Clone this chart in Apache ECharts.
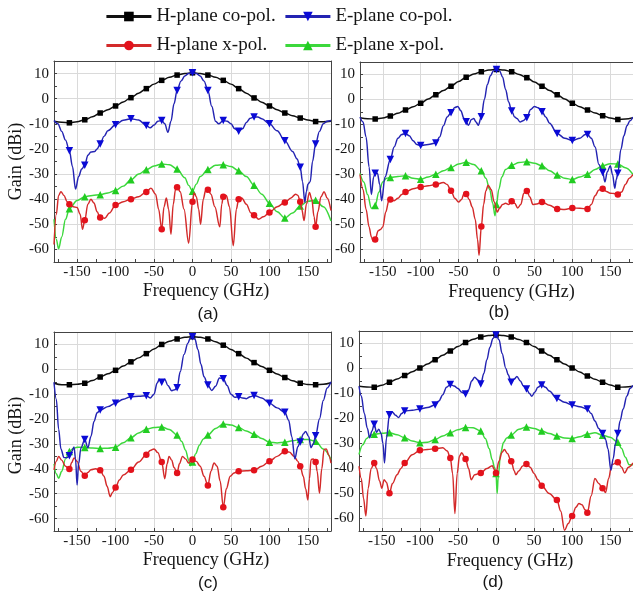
<!DOCTYPE html>
<html><head><meta charset="utf-8">
<script src="https://cdn.jsdelivr.net/npm/echarts@6/dist/echarts.min.js"></script>
<style>html,body{margin:0;padding:0;background:#fff}#c{width:633px;height:596px}</style>
</head><body><div id="c"></div>
<script>
const seriesNames = ['H-plane co-pol.', 'E-plane co-pol.', 'H-plane x-pol.', 'E-plane x-pol.'];
const panelLabels = ['(a)', '(b)', '(c)', '(d)'];
const xTickLabels = [-150, -100, -50, 0, 50, 100, 150];
const xMinorTicks = [-175, -150, -125, -100, -75, -50, -25, 0, 25, 50, 75, 100, 125, 150, 175];
const yTickLabels = [-60, -50, -40, -30, -20, -10, 0, 10, 15];
const yGridTicks = [-60, -50, -40, -30, -20, -10, 0, 10];
const yMinorTicks = [-60, -55, -50, -45, -40, -35, -30, -25, -20, -15, -10, -5, 0, 5, 10];

// ---------- panel (a) ----------
const hCoA = [[-180,-9],[-170,-9.4],[-160,-9.6],[-150,-9.2],[-140,-8.4],[-130,-7.2],[-120,-5.7],[-110,-4.4],[-100,-2.9],[-90,-1.3],[-80,0.4],[-70,2.2],[-60,4],[-50,5.8],[-40,7.3],[-30,8.5],[-20,9.4],[-10,10],[0,10.3],[10,10],[20,9.4],[30,8.5],[40,7.3],[50,5.8],[60,4],[70,2.2],[80,0.3],[90,-1.4],[100,-2.9],[110,-4.4],[120,-5.7],[130,-6.8],[140,-7.7],[150,-8.5],[160,-9.1],[170,-9.2],[180,-9]];
const eCoA = [[-180,-8.7],[-175,-10],[-170,-13],[-165,-16.5],[-160,-20.7],[-156,-27],[-152,-36],[-148,-31],[-144,-28],[-140,-26.5],[-136,-22.5],[-132,-21.2],[-127,-21],[-124,-20],[-120,-18],[-115,-15],[-110,-12.8],[-100,-10.4],[-90,-8.6],[-80,-8],[-70,-8.5],[-60,-10.7],[-55,-11.6],[-50,-10.5],[-45,-9],[-40,-8.7],[-36,-10],[-32,-13.4],[-28,-9],[-24,-2],[-20,3.3],[-15,7],[-10,9],[-5,10],[0,10.3],[5,10],[10,9],[15,7],[20,3.3],[25,-3],[30,-9],[34,-10],[40,-8.7],[45,-9],[50,-10],[55,-12],[60,-13],[65,-12],[70,-9.5],[75,-7.8],[80,-7.3],[85,-7.3],[90,-8],[100,-10],[110,-12.8],[120,-16.7],[130,-21],[136,-24],[140,-27.3],[143,-33],[146,-41.3],[148,-37],[150,-34],[153,-33],[156,-25],[160,-18],[165,-13],[170,-10],[175,-9],[180,-8.7]];
const hXA = [[-180,-58],[-177,-46],[-174,-38.5],[-171,-37],[-167,-38.5],[-163,-41],[-160,-42],[-155,-43],[-150,-43.3],[-146,-46],[-143,-52],[-140,-48.4],[-136,-42],[-132,-40],[-128,-41.5],[-124,-45],[-120,-47.3],[-114,-47.6],[-108,-45.5],[-100,-42.3],[-90,-41],[-80,-40],[-70,-39],[-60,-37.1],[-54,-35.6],[-48,-38],[-44,-44],[-40,-52],[-37,-43],[-34,-39.5],[-31,-44],[-28,-54],[-25,-42],[-22,-36],[-20,-35.2],[-16,-37],[-11,-44],[-5,-57.5],[0,-41],[2,-37.5],[5,-39],[8,-44],[10.5,-50],[14,-40],[17,-36.5],[20,-36.2],[24,-38],[29,-43],[35.5,-51],[38,-42],[40,-39],[44,-38.5],[48,-43],[53,-58.5],[57,-44],[60,-40],[64,-39.5],[70,-42],[76,-45.5],[80,-46.4],[86,-48],[92,-47],[100,-45.3],[110,-43],[120,-41.3],[128,-39.5],[134,-38],[137,-38.5],[140,-41],[142,-44],[145,-48.5],[148,-42],[152,-37.3],[155,-40],[158,-47],[160,-51],[163,-45],[167,-39],[171,-37],[175,-39.5],[180,-44.5]];
const eXA = [[-180,-48],[-177,-56],[-174,-59.7],[-170,-55],[-165,-48],[-160,-43.8],[-150,-40.5],[-140,-39],[-130,-38.5],[-120,-38.2],[-110,-37.5],[-100,-36.5],[-90,-34.8],[-80,-32.3],[-70,-30],[-60,-28.3],[-50,-26.8],[-40,-26],[-30,-26.3],[-20,-28],[-10,-31.5],[-5,-34.5],[0,-36.8],[5,-34],[10,-31],[20,-28.2],[30,-26.5],[40,-26.3],[50,-27],[60,-28.7],[70,-31],[80,-34.5],[90,-38],[100,-41.6],[110,-45],[120,-47.5],[130,-45.5],[140,-42.7],[150,-40.8],[160,-40.4],[170,-43],[180,-48.7]];

// ---------- panel (b) ----------
const hCoB = [[-180,-7.3],[-170,-7.7],[-160,-7.8],[-150,-7.4],[-140,-6.6],[-130,-5.5],[-120,-4.2],[-110,-2.9],[-100,-1.5],[-90,0.2],[-80,1.9],[-70,3.6],[-60,5.3],[-50,7.2],[-40,8.9],[-30,10.2],[-20,11.1],[-10,11.8],[0,12],[10,11.8],[20,11.1],[30,10],[40,8.7],[50,7],[60,5.3],[70,3.6],[80,1.9],[90,0.2],[100,-1.5],[110,-2.9],[120,-4.2],[130,-5.4],[140,-6.5],[150,-7.4],[160,-8],[170,-7.8],[180,-7.3]];
const eCoB = [[-180,-7],[-176,-9],[-172,-15],[-168,-27],[-165,-38],[-162,-31],[-160,-29.5],[-157,-29.5],[-154,-34],[-151.5,-40.5],[-147,-31],[-140,-24],[-135,-19],[-130,-15.5],[-125,-14],[-120,-13.6],[-115,-14.5],[-110,-16.5],[-105,-18],[-100,-18.4],[-90,-18],[-80,-17.4],[-75,-15],[-70,-10.5],[-65,-7],[-60,-5.3],[-55,-3.2],[-51,-2.8],[-47,-4.5],[-43,-7.5],[-40,-8.9],[-37,-10.3],[-33,-8],[-30,-7.6],[-27,-9],[-24,-10.3],[-20,-6.9],[-16,0],[-12,6],[-8,9.5],[-4,11.5],[0,12],[4,11.5],[8,9],[12,4],[16,-1],[20,-4.6],[24,-7],[27,-7.6],[31,-9],[35,-8.5],[40,-7.3],[45,-4],[50,-2.8],[55,-3.3],[60,-4.9],[65,-7],[70,-9.5],[80,-13.6],[90,-15.5],[100,-16.4],[110,-15.5],[117,-14],[120,-14],[125,-15.5],[130,-19],[135,-26],[140,-29.2],[143,-33],[146,-29],[150,-26.5],[153,-30],[156,-35.5],[158,-32],[160,-29.5],[164,-20],[168,-14.5],[172,-10.5],[176,-8.5],[180,-7]];
const hXB = [[-180,-30],[-176,-36],[-172,-44],[-168,-51],[-165,-55],[-163,-56.5],[-160,-56],[-156,-52.5],[-153,-52],[-150,-51],[-146,-45],[-142,-40.5],[-140,-40],[-135,-40.5],[-130,-39.5],[-125,-38],[-120,-37],[-110,-35.7],[-100,-35],[-90,-34.5],[-80,-34],[-70,-33.2],[-65,-34],[-60,-36.5],[-55,-39.5],[-50,-41],[-46,-40],[-43,-37.6],[-40,-37.8],[-36,-40],[-32,-43],[-28,-48],[-25,-56],[-23,-62.3],[-20,-50.8],[-17,-42],[-14,-36.5],[-11,-34.3],[-7,-36],[-3,-41],[1,-45],[4,-43.5],[8,-42],[12,-41.5],[16,-42],[20,-40.7],[24,-41.5],[28,-43.4],[32,-42],[36,-37.5],[40,-36.6],[44,-39],[48,-42],[53,-41.8],[60,-41],[70,-42.3],[80,-43.8],[90,-44],[100,-43.4],[110,-43.5],[120,-43.8],[125,-42],[130,-38.5],[135,-36.2],[140,-35.7],[145,-36.8],[150,-37.5],[155,-37.6],[160,-38],[165,-37],[170,-34],[175,-31.5],[180,-30]];
const eXB = [[-180,-29.5],[-175,-33],[-170,-38],[-165,-43.5],[-160,-42.4],[-155,-37],[-150,-33],[-145,-31.5],[-140,-31.2],[-130,-30.8],[-120,-30.5],[-110,-31.5],[-100,-31.9],[-90,-31],[-80,-29.9],[-70,-28.5],[-60,-27.2],[-50,-25.8],[-40,-25.1],[-30,-26],[-20,-28.5],[-14,-31.5],[-9,-36],[-5,-41.5],[-2,-46.5],[0,-42],[3,-36],[7,-31],[12,-28],[20,-26.3],[30,-25.2],[40,-24.9],[50,-25.5],[60,-26.5],[70,-28.5],[80,-30.2],[90,-31.5],[100,-32],[110,-31],[120,-29.9],[130,-28],[140,-26.5],[150,-25.7],[160,-25.8],[170,-27.3],[180,-30]];

// ---------- panel (c) ----------
const hCoC = [[-180,-5.6],[-170,-6.2],[-160,-6.2],[-150,-6],[-140,-5.6],[-130,-4.5],[-120,-3.1],[-110,-1.8],[-100,-0.4],[-90,1.3],[-80,3],[-70,4.6],[-60,6.3],[-50,8.2],[-40,10],[-30,11.3],[-20,12.2],[-10,12.9],[0,13.1],[10,12.9],[20,12.2],[30,11.1],[40,9.7],[50,8],[60,6.3],[70,4.5],[80,2.7],[90,1.1],[100,-0.4],[110,-1.9],[120,-3.3],[130,-4.6],[140,-5.6],[150,-6.1],[160,-6.2],[170,-6],[180,-5.4]];
const eCoC = [[-180,-5.2],[-177,-12],[-174,-24],[-171,-32],[-167,-35.5],[-163,-35.5],[-160,-34.7],[-157,-33],[-154,-31.2],[-152,-36],[-150,-46.5],[-148,-38],[-145,-31.6],[-140,-28.2],[-136,-31.6],[-132,-27],[-128,-21],[-124,-17.5],[-120,-16.4],[-110,-15],[-100,-13.6],[-90,-12],[-80,-11],[-70,-10.8],[-60,-10.6],[-55,-11.5],[-50,-10],[-46,-5.5],[-43,-4],[-40,-5.2],[-36,-4],[-32,-6.5],[-27,-8.6],[-23,-8.2],[-20,-7.4],[-16,-1],[-11,6],[-6,10.5],[-3,12.5],[0,13.1],[3,12.3],[7,8],[11,2],[15,-3],[20,-6.3],[25,-8.5],[30,-6.8],[35,-3.5],[40,-3.8],[45,-6.5],[50,-10],[55,-11.2],[60,-11],[65,-11.5],[70,-11.8],[75,-11],[80,-10.5],[90,-11.5],[100,-13.6],[110,-15.5],[120,-17.3],[125,-20.5],[129,-27],[133,-36],[137,-31],[140,-29.2],[144,-26],[147,-25],[151,-27],[154,-31.5],[157,-30],[160,-26.7],[165,-20],[170,-12.5],[175,-7.5],[180,-5]];
const hXC = [[-180,-40.4],[-177,-37],[-174,-35],[-170,-36.5],[-165,-39],[-160,-40.1],[-157,-37.5],[-154,-35.6],[-150,-37],[-145,-41],[-140,-42.8],[-136,-41.5],[-132,-40.4],[-126,-40],[-120,-40.6],[-115,-43],[-111,-47],[-107,-51.2],[-104,-49.5],[-100,-47.5],[-95,-44.5],[-90,-42.5],[-80,-40.4],[-70,-37.3],[-60,-34.3],[-55,-32.6],[-50,-32],[-45,-33.5],[-40,-37.3],[-36,-44],[-33,-38],[-30.5,-35],[-27,-36.5],[-24,-39.5],[-20,-41.7],[-17,-38],[-13,-35],[-9,-36],[-5,-37.7],[0,-36.3],[5,-37],[10,-39],[15,-43],[20,-46.7],[24,-41],[28,-37.7],[32,-39],[36,-45],[40,-55.5],[44,-48],[49,-43],[54,-41.7],[60,-41],[70,-40.8],[80,-40.6],[90,-39],[100,-37],[110,-35],[120,-32.9],[126,-33.3],[132,-35],[137,-37],[140,-39],[144,-43],[147,-48],[150,-52.5],[152,-44],[154,-36.3],[157,-36],[160,-37.3],[162,-41],[165,-49.8],[168,-40],[171,-32.2],[174,-32],[177,-34.5],[180,-37.7]];
const eXC = [[-180,-38],[-177,-42],[-174,-43.8],[-170,-41],[-165,-36],[-160,-33],[-155,-31.8],[-150,-31.3],[-140,-31.4],[-130,-31.6],[-120,-31.8],[-110,-31.7],[-100,-31.3],[-90,-29.5],[-80,-27.5],[-70,-25.6],[-60,-24.1],[-50,-23.4],[-40,-23.2],[-30,-24.2],[-20,-26.4],[-14,-29],[-9,-32.5],[-5,-36.5],[-3,-38.8],[0,-37.3],[4,-34],[9,-30.5],[14,-28],[20,-26.4],[30,-23.8],[40,-22],[50,-22.4],[60,-23.4],[70,-24.8],[80,-26.1],[90,-27.8],[100,-29.3],[110,-29.6],[120,-29.3],[130,-28.7],[140,-28.2],[150,-28.2],[160,-28.9],[170,-32],[180,-36.3]];

// ---------- panel (d) ----------
const hCoD = [[-180,-7.1],[-170,-7.4],[-160,-7.5],[-150,-6.7],[-140,-5.5],[-130,-4.2],[-120,-2.8],[-110,-1.3],[-100,0.2],[-90,1.8],[-80,3.5],[-70,5.3],[-60,7],[-50,8.8],[-40,10.4],[-30,11.7],[-20,12.6],[-10,13.2],[0,13.4],[10,13.2],[20,12.6],[30,11.6],[40,10.4],[50,8.8],[60,7],[70,5.3],[80,3.5],[90,1.8],[100,0.2],[110,-1.4],[120,-3],[130,-4.3],[140,-5.5],[150,-6.6],[160,-7.5],[170,-7.4],[180,-7.1]];
const eCoD = [[-180,-7.1],[-177,-11],[-173,-18],[-169,-24],[-166,-27.7],[-163,-25],[-160,-22.3],[-157,-25.5],[-154,-24.3],[-151,-26],[-148.5,-30],[-146.5,-37.8],[-144,-28],[-140,-18.5],[-136,-17.5],[-132,-18.7],[-128,-19.6],[-124,-18],[-120,-17],[-110,-16.7],[-100,-16.2],[-90,-15.6],[-80,-14.6],[-75,-13],[-70,-10.5],[-65,-7.5],[-60,-6.4],[-55,-7],[-50,-8],[-45,-9.5],[-40,-10.2],[-36,-8.5],[-32,-5],[-28,-3.5],[-24,-4.5],[-20,-6.2],[-16,-2],[-12,3.5],[-8,8.5],[-4,12],[0,13.4],[4,11.5],[8,6],[13,0],[16,-2.5],[20,-5.5],[24,-4.2],[27.5,-3.2],[32,-5],[36,-7],[40,-8.2],[44,-10],[47,-11.1],[51,-9.5],[55,-7.5],[60,-6.6],[65,-7.5],[70,-9],[80,-12],[90,-13.5],[100,-14.6],[110,-15.3],[120,-16.2],[125,-18],[130,-21],[135,-24],[140,-26],[144,-28.5],[147,-32],[151,-40.7],[154,-36],[157,-30],[160,-26],[163,-21],[167,-16.2],[172,-11],[176,-8],[180,-6.8]];
const hXD = [[-180,-39.1],[-177,-44],[-174,-52],[-171,-59],[-168,-48],[-164,-40],[-160,-37.8],[-157,-40],[-153,-45],[-150,-47.9],[-147,-44.5],[-144,-45.5],[-140,-49.9],[-136,-46],[-130,-42.5],[-125,-40],[-120,-37.8],[-110,-34.5],[-100,-32.7],[-90,-32.4],[-80,-32.1],[-70,-31.7],[-64,-33],[-60,-35.8],[-57,-42],[-54,-58],[-51,-42],[-48,-35],[-45,-33.7],[-40,-36.2],[-36,-40],[-32.6,-44.5],[-28,-42.5],[-20,-41.8],[-12,-40],[-5,-38.9],[-2,-40.5],[0,-41.8],[4,-37],[8,-33.5],[11,-32.4],[15,-34],[20,-37.1],[24,-41],[26,-42.5],[30,-41],[35,-39],[40,-38.2],[45,-39.5],[50,-42],[55,-44.5],[60,-46.9],[70,-50],[80,-52.6],[85,-57],[90,-64.7],[95,-62],[100,-59],[105,-55.5],[109,-54],[113,-54.5],[117,-56.5],[120,-57.7],[125,-51],[130,-44],[135,-46],[140,-47.9],[144,-49.6],[148,-44],[152,-38.5],[160,-37.5],[165,-39.5],[169,-41.8],[174,-39.5],[180,-37.8]];
const eXD = [[-180,-34.4],[-175,-30.5],[-170,-28],[-165,-26.7],[-160,-26.3],[-150,-25.9],[-140,-25.7],[-130,-26.5],[-120,-27.7],[-110,-29],[-100,-29.7],[-90,-29.5],[-80,-28.4],[-70,-27],[-60,-25.7],[-50,-24.5],[-40,-23.6],[-30,-23.7],[-20,-25],[-14,-28],[-9,-32],[-5,-36.5],[-2,-39.5],[0,-42],[1.5,-50],[3,-43],[6,-34],[10,-29.5],[14,-27.8],[20,-26.6],[30,-24.3],[40,-23.4],[50,-24],[60,-25],[70,-26],[80,-27],[90,-27.8],[100,-28],[110,-27.3],[120,-26.3],[130,-25.7],[140,-26.7],[150,-27.5],[160,-29.5],[165,-32],[170,-35.5],[175,-38.5],[180,-38.5]];

const panelData = [
  [hCoA, eCoA, hXA, eXA],
  [hCoB, eCoB, hXB, eXB],
  [hCoC, eCoC, hXC, eXC],
  [hCoD, eCoD, hXD, eXD]
];

// ---------- layout & styles ----------
const grids = [
  {left: 54, top: 61, width: 277, height: 201},
  {left: 360, top: 62, width: 278, height: 200},
  {left: 54, top: 332, width: 277, height: 199},
  {left: 359, top: 331, width: 276, height: 200}
];
const nameShift = [27, 30, 27, 28];
const nameGaps = [20, 21, 20, 21];
const labelPos = [[208, 314], [499, 312], [208, 583], [493, 582]];
const serif = 'Liberation Serif';
const textColor = '#151515';

const styles = [
  {line: '#111111', mark: '#000000', symbol: 'rect', size: 5.5, rotate: 0},
  {line: '#2323b2', mark: '#0a0ad6', symbol: 'triangle', size: 7.5, rotate: 180},
  {line: '#d32a2a', mark: '#e3121c', symbol: 'circle', size: 6.5, rotate: 0},
  {line: '#3cd83c', mark: '#22cc22', symbol: 'triangle', size: 7.5, rotate: 0}
];
const drawOrder = [0, 3, 2, 1];

const xAxes = [], yAxes = [], series = [], gridOpts = [], graphics = [];
grids.forEach((g, i) => {
  gridOpts.push(Object.assign({containLabel: false}, g));
  xAxes.push({
    gridIndex: i, type: 'value', min: -180, max: 180, position: 'bottom',
    axisLine: {show: true, onZero: false, lineStyle: {color: '#444', width: 1}},
    axisTick: {show: true, inside: true, length: 3, customValues: xMinorTicks, lineStyle: {color: '#444'}},
    axisLabel: {customValues: xTickLabels, fontFamily: serif, fontSize: 15, color: textColor, margin: 3},
    splitLine: {show: false},
    name: 'Frequency (GHz)', nameLocation: 'middle', nameGap: nameGaps[i],
    nameTextStyle: {fontFamily: serif, fontSize: 18, color: textColor, padding: [0, 0, 0, nameShift[i]]}
  });
  xAxes.push({
    gridIndex: i, type: 'value', min: -180, max: 180, position: 'top',
    axisLine: {show: true, onZero: false, lineStyle: {color: '#444', width: 1}},
    axisTick: {show: false, customValues: xTickLabels},
    axisLabel: {show: false},
    splitLine: {show: true, lineStyle: {color: '#dadada', width: 1}}
  });
  const yLeft = {
    gridIndex: i, type: 'value', min: -65, max: 15, position: 'left',
    axisLine: {show: true, onZero: false, lineStyle: {color: '#444', width: 1}},
    axisTick: {show: true, inside: true, length: 3, customValues: yMinorTicks, lineStyle: {color: '#444'}},
    axisLabel: {customValues: yTickLabels, fontFamily: serif, fontSize: 15, color: textColor, margin: 5},
    splitLine: {show: false}
  };
  if (i === 0 || i === 2) {
    yLeft.name = 'Gain (dBi)';
    yLeft.nameLocation = 'middle';
    yLeft.nameGap = 24;
    yLeft.nameTextStyle = {fontFamily: serif, fontSize: 18, color: textColor, padding: i === 2 ? [0, 8, 0, 0] : 0};
  }
  yAxes.push(yLeft);
  yAxes.push({
    gridIndex: i, type: 'value', min: -65, max: 15, position: 'right',
    axisLine: {show: true, onZero: false, lineStyle: {color: '#444', width: 1}},
    axisTick: {show: false, customValues: yGridTicks},
    axisLabel: {show: false},
    splitLine: {show: true, lineStyle: {color: '#dadada', width: 1}}
  });
  drawOrder.forEach((k, zi) => {
    const st = styles[k];
    series.push({
      type: 'line', name: seriesNames[k], xAxisIndex: 2 * i, yAxisIndex: 2 * i,
      data: panelData[i][k], smooth: 0.35, smoothMonotone: 'x',
      symbol: st.symbol, symbolRotate: st.rotate, showSymbol: true, showAllSymbol: true,
      symbolSize: (v) => (v[0] % 20 === 0 && Math.abs(v[0]) <= 160) ? st.size : 0,
      lineStyle: {color: st.line, width: 1.45},
      itemStyle: {color: st.mark},
      z: 2 + zi, animation: false, clip: true
    });
  });
  graphics.push({
    type: 'text', x: labelPos[i][0], y: labelPos[i][1],
    style: {text: panelLabels[i], font: '17px "Liberation Sans"', fill: textColor, align: 'center', verticalAlign: 'middle'}
  });
});

const legendPos = [[105, 7], [284, 7], [105, 36], [284, 36]];
const legendOrder = [0, 1, 2, 3];
const legends = legendOrder.map((k, j) => ({
  data: [seriesNames[k]], left: legendPos[j][0], top: legendPos[j][1],
  itemWidth: 45, itemHeight: 12, padding: 0,
  lineStyle: {width: 2.8},
  textStyle: {fontFamily: serif, fontSize: 19, color: textColor},
  selectedMode: false
}));

const chart = echarts.init(document.getElementById('c'), null, {renderer: 'canvas'});
chart.setOption({
  backgroundColor: '#ffffff',
  animation: false,
  legend: legends,
  grid: gridOpts,
  xAxis: xAxes,
  yAxis: yAxes,
  series: series,
  graphic: graphics
});
</script></body></html>
